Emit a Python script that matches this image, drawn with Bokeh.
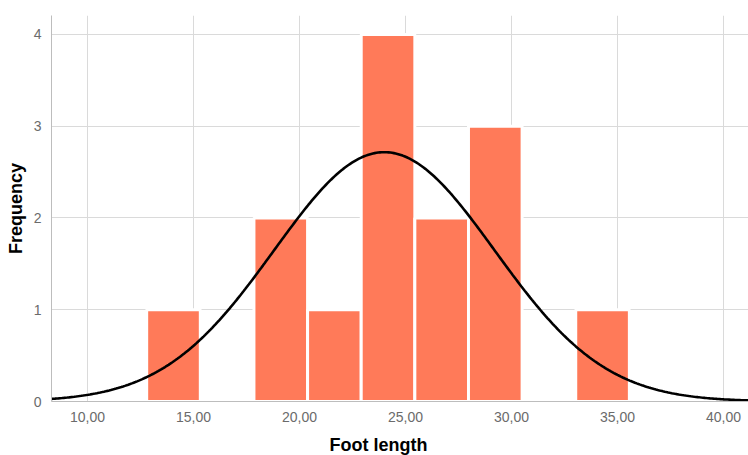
import numpy as np
from bokeh.plotting import figure
from bokeh.models import FixedTicker, Title, Range1d
from bokeh.embed import file_html
from bokeh.resources import INLINE

# Histogram data
bin_left = [12.79, 15.32, 17.85, 20.38, 22.91, 25.44, 27.97, 30.50, 33.03]
bin_right = [15.32, 17.85, 20.38, 22.91, 25.44, 27.97, 30.50, 33.03, 35.56]
counts = [1, 0, 2, 1, 4, 2, 3, 0, 1]

# Fitted normal curve parameters
n_obs = 14
mean_val = 24.0
sd_val = 5.2
bin_width = 2.53

x_ticks = [10, 15, 20, 25, 30, 35, 40]
x_tick_labels = ["10,00", "15,00", "20,00", "25,00", "30,00", "35,00", "40,00"]
y_ticks = [0, 1, 2, 3, 4]

p = figure(width=748, height=455, output_backend="svg", toolbar_location=None,
           x_range=Range1d(8.30, 41.18), y_range=Range1d(0, 4.207),
           min_border_left=51, min_border_right=0, min_border_top=15, min_border_bottom=54)
p.outline_line_color = None
p.background_fill_color = "white"
p.border_fill_color = "white"

p.quad(left=bin_left, right=bin_right, bottom=0, top=counts,
       fill_color="#FF7A59", line_color="white", line_width=3)

xs = np.linspace(8.30, 41.18, 400)
ys = n_obs * bin_width * np.exp(-0.5 * ((xs - mean_val) / sd_val) ** 2) / (sd_val * np.sqrt(2 * np.pi))
p.line(xs, ys, line_color="black", line_width=2.6)

# axes
p.xaxis.ticker = FixedTicker(ticks=x_ticks)
p.xaxis.major_label_overrides = {t: l for t, l in zip(x_ticks, x_tick_labels)}
p.yaxis.ticker = FixedTicker(ticks=y_ticks)
for ax in (p.xaxis[0], p.yaxis[0]):
    ax.major_tick_line_color = None
    ax.minor_tick_line_color = None
    ax.axis_line_color = "#BDBDBD"
    ax.axis_line_width = 1
    ax.major_label_text_font = "Liberation Sans"
    ax.major_label_text_font_size = "14px"
    ax.major_label_text_color = "#6B6B6B"
    ax.major_label_standoff = 4

p.yaxis.axis_label = "Frequency"
p.yaxis.axis_label_text_font = "Liberation Sans"
p.yaxis.axis_label_text_font_style = "bold"
p.yaxis.axis_label_text_font_size = "18px"
p.yaxis.axis_label_text_color = "black"
p.yaxis.axis_label_standoff = 5

p.xgrid.ticker = FixedTicker(ticks=x_ticks)
p.ygrid.ticker = FixedTicker(ticks=y_ticks)
p.grid.grid_line_color = "#DADADA"
p.grid.grid_line_width = 1

spacer = Title(text=" ", text_font_size="6px", standoff=0)
p.add_layout(spacer, "below")

xtitle = Title(text="Foot length", align="left", offset=278,
               text_font="Liberation Sans", text_font_style="bold",
               text_font_size="18px", text_color="black", standoff=0)
p.add_layout(xtitle, "below")

open("out.html", "w").write(file_html(p, INLINE))
